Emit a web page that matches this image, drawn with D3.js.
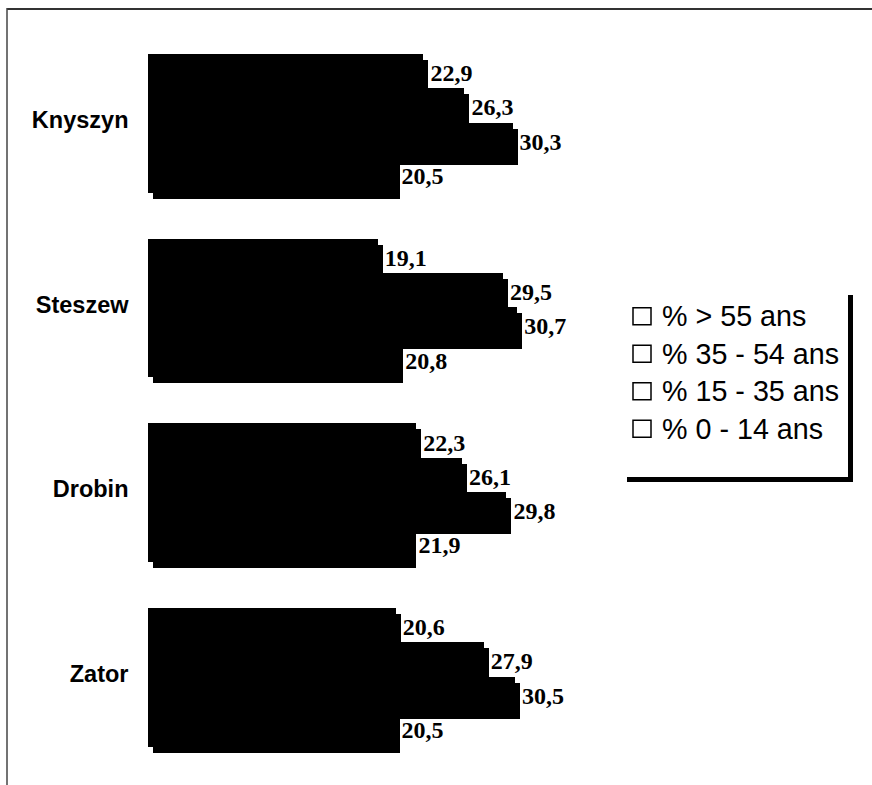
<!DOCTYPE html>
<html>
<head>
<meta charset="utf-8">
<script src="https://cdn.jsdelivr.net/npm/d3@7/dist/d3.min.js"></script>
<style>
  html, body { margin: 0; padding: 0; background: #fff; }
  svg { display: block; }
</style>
</head>
<body>
<script>
// ---- data ----
const categories = ["Knyszyn", "Steszew", "Drobin", "Zator"];
const series = ["% > 55 ans", "% 35 - 54 ans", "% 15 - 35 ans", "% 0 - 14 ans"];
const valsOver55  = [22.9, 19.1, 22.3, 20.6];
const vals35to54  = [26.3, 29.5, 26.1, 27.9];
const vals15to35  = [30.3, 30.7, 29.8, 30.5];
const vals0to14   = [20.5, 20.8, 21.9, 20.5];
const seriesValues = [valsOver55, vals35to54, vals15to35, vals0to14];
const fmt = v => d3.format(".1f")(v).replace(".", ",");

const W = 872, H = 785;
const svg = d3.select("body").append("svg").attr("width", W).attr("height", H);

// outer frame (top and left visible)
svg.append("line").attr("x1", 7).attr("x2", W).attr("y1", 9).attr("y2", 9)
  .attr("stroke", "#333").attr("stroke-width", 2);
svg.append("line").attr("x1", 7).attr("x2", 7).attr("y1", 8).attr("y2", H)
  .attr("stroke", "#444").attr("stroke-width", 1.5);

// scales
const x = d3.scaleLinear().domain([0, 30]).range([148, 148 + 30 * 12.03]);
const y0 = d3.scaleBand().domain(categories).range([54, 745.1]).paddingInner(0.258).paddingOuter(0);
const y1 = d3.scaleBand().domain(series).range([0, y0.bandwidth()]).padding(0);

const sdx = 5, sdy = 6;

const rows = [];
categories.forEach((c, ci) => {
  series.forEach((s, si) => {
    rows.push({ c, s, v: seriesValues[si][ci] });
  });
});

const g = svg.append("g").attr("shape-rendering", "crispEdges");
// shadows
g.selectAll("rect.shadow").data(rows).enter().append("rect")
  .attr("class", "shadow")
  .attr("x", x(0) + sdx)
  .attr("y", d => Math.round(y0(d.c) + y1(d.s) + sdy))
  .attr("width", d => x(d.v) - x(0))
  .attr("height", Math.ceil(y1.bandwidth()) + 1)
  .attr("fill", "#000");
// bars
g.selectAll("rect.bar").data(rows).enter().append("rect")
  .attr("class", "bar")
  .attr("x", x(0))
  .attr("y", d => Math.round(y0(d.c) + y1(d.s)))
  .attr("width", d => x(d.v) - x(0))
  .attr("height", Math.ceil(y1.bandwidth()) + 1)
  .attr("fill", "#000");
// value labels
svg.selectAll("text.val").data(rows).enter().append("text")
  .attr("class", "val")
  .attr("x", d => x(d.v) + sdx + 2)
  .attr("y", d => y0(d.c) + y1(d.s) + y1.bandwidth() / 2 + 10)
  .attr("font-family", "'Liberation Serif', 'Times New Roman', serif")
  .attr("font-weight", "bold")
  .attr("font-size", "24px")
  .attr("fill", "#000")
  .text(d => fmt(d.v));

// category labels
svg.selectAll("text.cat").data(categories).enter().append("text")
  .attr("class", "cat")
  .attr("x", 128.5)
  .attr("y", d => y0(d) + y0.bandwidth() / 2 + 5.5)
  .attr("text-anchor", "end")
  .attr("font-family", "'Liberation Sans', Arial, sans-serif")
  .attr("font-weight", "bold")
  .attr("font-size", "23.5px")
  .attr("fill", "#000")
  .text(d => d);

// legend
const lg = svg.append("g");
lg.append("rect").attr("x", 627).attr("y", 295).attr("width", 226).attr("height", 187).attr("fill", "#000");
lg.append("rect").attr("x", 622).attr("y", 290).attr("width", 226).attr("height", 187).attr("fill", "#fff");
const ly = d3.scaleBand().domain(series).range([297.5, 447.5]);
const items = lg.selectAll("g.item").data(series).enter().append("g").attr("class", "item");
items.append("rect")
  .attr("x", 633)
  .attr("y", d => ly(d) + ly.bandwidth() / 2 - 8.5)
  .attr("width", 18).attr("height", 17)
  .attr("fill", "#fff").attr("stroke", "#000").attr("stroke-width", 1.5);
items.append("text")
  .attr("x", 662)
  .attr("y", d => ly(d) + ly.bandwidth() / 2 + 9.8)
  .attr("font-family", "'Liberation Sans', Arial, sans-serif")
  .attr("font-size", "28.7px")
  .attr("fill", "#000")
  .text(d => d);
</script>
</body>
</html>
